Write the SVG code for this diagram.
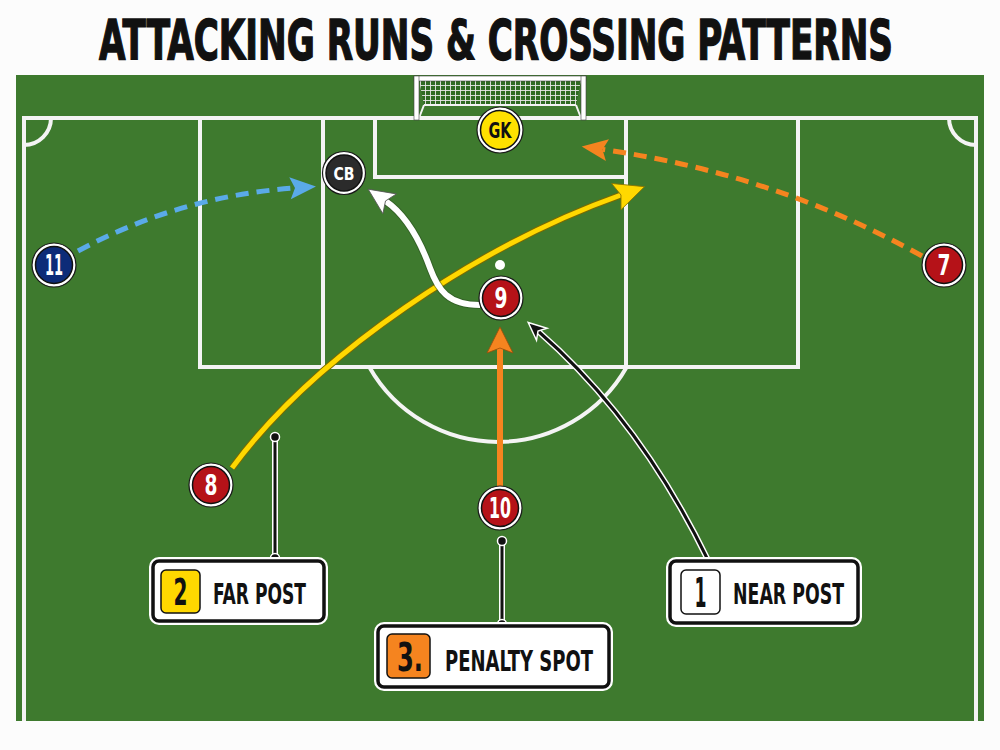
<svg xmlns="http://www.w3.org/2000/svg" width="1000" height="750" viewBox="0 0 1000 750">
<defs>
<style>
.cond{font-family:"Liberation Sans Narrow","DejaVu Sans Condensed","Liberation Sans",Arial,sans-serif;font-weight:bold;}
.line{fill:none;stroke:#f4f4f4;stroke-width:4;}
.pnum{fill:#ffffff;font-size:28px;text-anchor:middle;}
.ring{fill:#ffffff;stroke:#1a1a1a;stroke-width:1.2;}
.core{stroke:#111111;stroke-width:1.5;}
.lbl{fill:#111111;font-size:29px;}
.box-halo{fill:none;stroke:#ffffff;stroke-width:8;}
.box{fill:#ffffff;stroke:#111111;stroke-width:3.5;}
.badge{stroke:#111111;stroke-width:1.5;}
.dot{fill:#111111;stroke:#ffffff;stroke-width:1.5;}
</style>
<pattern id="net" width="5" height="5" patternUnits="userSpaceOnUse">
<rect width="5" height="5" fill="#2f6a22"/>
<path d="M0,0.5 H5 M0.5,0 V5" stroke="#e8e8e8" stroke-width="0.9"/>
</pattern>
<marker id="ah-blue" markerUnits="userSpaceOnUse" viewBox="-26 -11 26 22" markerWidth="26" markerHeight="22" refX="-21" refY="0" orient="auto" overflow="visible">
<path d="M0,0 L-26,-11 L-21,0 L-26,11 Z" fill="#5aaae8"/>
</marker>
<marker id="ah-orange" markerUnits="userSpaceOnUse" viewBox="-26 -11 26 22" markerWidth="26" markerHeight="22" refX="-21" refY="0" orient="auto" overflow="visible">
<path d="M0,0 L-26,-11 L-21,0 L-26,11 Z" fill="#f5841f"/>
</marker>
<marker id="ah-orange2" markerUnits="userSpaceOnUse" viewBox="-26 -13 26 26" markerWidth="26" markerHeight="26" refX="-21" refY="0" orient="auto" overflow="visible">
<path d="M0,0 L-26,-13 L-21,0 L-26,13 Z" fill="#f5841f" stroke="#9a4d0a" stroke-width="0.8"/>
</marker>
<marker id="ah-yellow" markerUnits="userSpaceOnUse" viewBox="-30 -14 30 28" markerWidth="30" markerHeight="28" refX="-25" refY="0" orient="auto" overflow="visible">
<path d="M0,0 L-30,-14 L-25,0 L-30,14 Z" fill="#ffd800" stroke="#8a7400" stroke-width="0.8"/>
</marker>
<marker id="ah-white" markerUnits="userSpaceOnUse" viewBox="-26 -12 26 24" markerWidth="26" markerHeight="24" refX="-21" refY="0" orient="auto" overflow="visible">
<path d="M0,0 L-26,-12 L-21,0 L-26,12 Z" fill="#ffffff" stroke="#555555" stroke-width="0.8"/>
</marker>
<marker id="ah-black" markerUnits="userSpaceOnUse" viewBox="-18 -8 18 16" markerWidth="18" markerHeight="16" refX="-13" refY="0" orient="auto" overflow="visible">
<path d="M0,0 L-18,-8 L-13,0 L-18,8 Z" fill="#111111" stroke="#ffffff" stroke-width="1.5"/>
</marker>
</defs>

<rect width="1000" height="750" fill="#fcfcfc"/>

<!-- title -->
<text class="cond" transform="matrix(1 0 0 1.4 0 0)" x="99" y="42.1" font-size="40" textLength="794" lengthAdjust="spacingAndGlyphs" fill="#111111" stroke="#111111" stroke-width="1">ATTACKING RUNS &amp; CROSSING PATTERNS</text>

<!-- pitch -->
<g id="pitch">
<rect x="16" y="75" width="968" height="646" fill="#3e7a2e"/>
<path class="line" d="M24,721 V118 H976 V721"/>
<path class="line" d="M24,145 A27,27 0 0 0 51,118"/>
<path class="line" d="M949,118 A27,27 0 0 0 976,145"/>
<path class="line" d="M200,118 V367 H798 V118"/>
<path class="line" d="M323,118 V367"/>
<path class="line" d="M626,118 V367"/>
<path class="line" d="M375,118 V177 H626"/>
<path class="line" d="M369.3,367 A148,148 0 0 0 626.7,367"/>
<circle cx="500" cy="265" r="5" fill="#ffffff"/>
</g>

<!-- goal -->
<g id="goal">
<polygon points="419,80 581,80 576,105 424,105" fill="url(#net)"/>
<path d="M424,105 L419,118 M576,105 L581,118 M424,105 H576" stroke="#f4f4f4" stroke-width="2" fill="none"/>
<rect x="414" y="76" width="172" height="5" fill="#ffffff" stroke="#444444" stroke-width="0.6"/>
<rect x="414" y="76" width="5" height="44" fill="#ffffff" stroke="#444444" stroke-width="0.6"/>
<rect x="581" y="76" width="5" height="44" fill="#ffffff" stroke="#444444" stroke-width="0.6"/>
</g>

<!-- connectors -->
<g id="connectors">
<path d="M78,251 Q180,196 295,188" fill="none" stroke="#5aaae8" stroke-width="5" stroke-dasharray="13 8" marker-end="url(#ah-blue)"/>
<path d="M922,256 Q775,174 602.5,149.4" fill="none" stroke="#f5841f" stroke-width="5" stroke-dasharray="13 8" marker-end="url(#ah-orange)"/>
<path d="M232,468 C315,355 480,245 621,195" fill="none" stroke="#7a6a00" stroke-width="7"/>
<path d="M232,468 C315,355 480,245 621,195" fill="none" stroke="#ffd800" stroke-width="5" marker-end="url(#ah-yellow)"/>
<path d="M480,305 C448,305 438,290 430,268 C421,243 406,215 385.5,201" fill="none" stroke="#2a4a20" stroke-opacity="0.5" stroke-width="8"/>
<path d="M480,305 C448,305 438,290 430,268 C421,243 406,215 385.5,201" fill="none" stroke="#ffffff" stroke-width="6" marker-end="url(#ah-white)"/>
<path d="M500,487 V348" fill="none" stroke="#f5841f" stroke-width="6" marker-end="url(#ah-orange2)"/>
<path d="M708,560 Q640,420 538,331" fill="none" stroke="#ffffff" stroke-width="6"/>
<path d="M708,560 Q640,420 538,331" fill="none" stroke="#111111" stroke-width="3" marker-end="url(#ah-black)"/>
<path d="M275,437 V558" stroke="#ffffff" stroke-width="6" fill="none"/>
<path d="M275,437 V558" stroke="#111111" stroke-width="3" fill="none"/>
<circle class="dot" cx="275" cy="437" r="4.5"/>
<circle class="dot" cx="275" cy="558" r="4.5"/>
<path d="M502,541 V624" stroke="#ffffff" stroke-width="6" fill="none"/>
<path d="M502,541 V624" stroke="#111111" stroke-width="3" fill="none"/>
<circle class="dot" cx="502" cy="541" r="4.5"/>
<circle class="dot" cx="502" cy="624" r="4.5"/>
</g>

<!-- players -->
<g id="gk">
<circle class="ring" cx="500" cy="130" r="23"/>
<circle class="core" cx="500" cy="130" r="19.5" fill="#ffe100"/>
<text class="cond" x="500" y="137.5" font-size="21" text-anchor="middle" textLength="23" lengthAdjust="spacingAndGlyphs" fill="#111111">GK</text>
</g>
<g id="cb">
<circle class="ring" cx="344" cy="173" r="21.5"/>
<circle class="core" cx="344" cy="173" r="18" fill="#2b2b2b"/>
<text class="cond" x="344" y="180" font-size="18" text-anchor="middle" textLength="21" lengthAdjust="spacingAndGlyphs" fill="#ffffff">CB</text>
</g>
<g id="p11">
<circle class="ring" cx="54" cy="265" r="22"/>
<circle class="core" cx="54" cy="265" r="18.5" fill="#0d2c78"/>
<text class="cond pnum" x="54" y="275" textLength="18" lengthAdjust="spacingAndGlyphs">11</text>
</g>
<g id="p7">
<circle class="ring" cx="944" cy="265" r="22"/>
<circle class="core" cx="944" cy="265" r="18.5" fill="#b51218"/>
<text class="cond pnum" x="944" y="275" textLength="13" lengthAdjust="spacingAndGlyphs">7</text>
</g>
<g id="p9">
<circle class="ring" cx="501" cy="298" r="22"/>
<circle class="core" cx="501" cy="298" r="18.5" fill="#b51218"/>
<text class="cond pnum" x="501" y="308" textLength="13" lengthAdjust="spacingAndGlyphs">9</text>
</g>
<g id="p8">
<circle class="ring" cx="211" cy="485" r="22"/>
<circle class="core" cx="211" cy="485" r="18.5" fill="#b51218"/>
<text class="cond pnum" x="211" y="495" textLength="13" lengthAdjust="spacingAndGlyphs">8</text>
</g>
<g id="p10">
<circle class="ring" cx="500" cy="508" r="22"/>
<circle class="core" cx="500" cy="508" r="18.5" fill="#b51218"/>
<text class="cond pnum" x="500" y="518" textLength="22" lengthAdjust="spacingAndGlyphs">10</text>
</g>

<!-- labels -->
<g id="label-far">
<rect class="box-halo" x="153" y="561" width="171" height="60" rx="6"/>
<rect class="box" x="153" y="561" width="171" height="60" rx="6"/>
<rect class="badge" x="161" y="570" width="39" height="43" rx="5" fill="#ffd800"/>
<text class="cond" x="180.5" y="605" font-size="38" text-anchor="middle" textLength="14" lengthAdjust="spacingAndGlyphs" fill="#111111">2</text>
<text class="cond lbl" x="213" y="604" textLength="93" lengthAdjust="spacingAndGlyphs">FAR POST</text>
</g>
<g id="label-penalty">
<rect class="box-halo" x="378" y="626" width="231" height="61" rx="6"/>
<rect class="box" x="378" y="626" width="231" height="61" rx="6"/>
<rect class="badge" x="387" y="634" width="43" height="44" rx="5" fill="#f5841f"/>
<text class="cond" x="410" y="671" font-size="39" text-anchor="middle" textLength="26" lengthAdjust="spacingAndGlyphs" fill="#111111">3.</text>
<text class="cond lbl" x="445" y="671" font-size="30" textLength="148" lengthAdjust="spacingAndGlyphs">PENALTY SPOT</text>
</g>
<g id="label-near">
<rect class="box-halo" x="670" y="561" width="188" height="62" rx="6"/>
<rect class="box" x="670" y="561" width="188" height="62" rx="6"/>
<rect class="badge" x="681" y="570" width="39" height="44" rx="5" fill="#ffffff"/>
<text class="cond" x="700.5" y="607" font-size="40" text-anchor="middle" textLength="12" lengthAdjust="spacingAndGlyphs" fill="#111111">1</text>
<text class="cond lbl" x="733" y="604" textLength="111" lengthAdjust="spacingAndGlyphs">NEAR POST</text>
</g>
</svg>
